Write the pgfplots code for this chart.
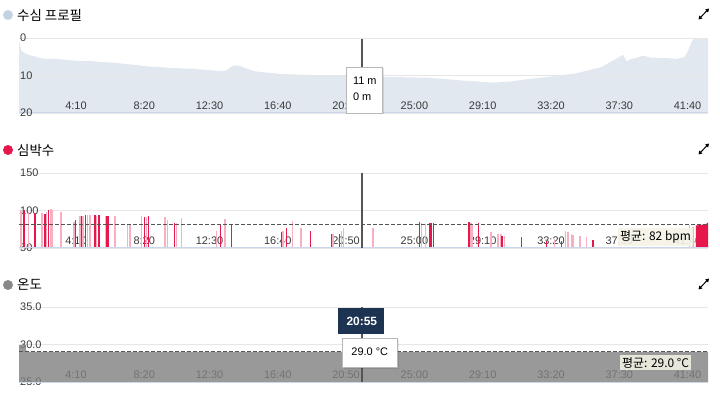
\documentclass[border=0pt]{standalone}
\usepackage{pgfplots}
\pgfplotsset{compat=1.18}
\usepackage{fontspec}
\setmainfont{Liberation Sans}
\newfontfamily\kr{Noto Sans CJK KR}
\usetikzlibrary{arrows.meta}
\definecolor{depthfill}{HTML}{E2E8EF}
\definecolor{depthdot}{HTML}{C3D3E3}
\definecolor{hrred}{HTML}{E5174B}
\definecolor{hrpink}{HTML}{F8B0C1}
\definecolor{tempgray}{HTML}{808080}
\definecolor{tempdot}{HTML}{888888}
\definecolor{gridc}{HTML}{E6E6E6}
\definecolor{axisc}{HTML}{CCD6EB}
\definecolor{labc}{HTML}{3A3A3A}
\definecolor{navy}{HTML}{1C3452}
\definecolor{avgbg}{HTML}{F5F3E6}
\definecolor{crossc}{HTML}{555555}
\pgfplotsset{
  panel/.style={scale only axis, width=689bp, height=75bp, xmin=0, xmax=2522,
    axis line style={draw=none}, major tick length=0pt, ymajorgrids,
    grid style={color=gridc, line width=0.8bp},
    xtick={250,500,750,1000,1250,1500,1750,2000,2250,2500},
    xticklabels={4:10,8:20,12:30,16:40,20:50,25:00,29:10,33:20,37:30,41:40},
    xticklabel style={anchor=south east, inner sep=0.5bp, yshift=2.5bp},
    yticklabel style={anchor=west, inner sep=1bp},
    tick label style={font=\fontsize{11}{11}\selectfont, text=labc},
    clip mode=individual},
}
\begin{document}
\begin{tikzpicture}
\path[use as bounding box] (0,0) rectangle (720bp,395bp);
% titles
\fill[depthdot] (8bp,380bp) circle (5bp);
\node[anchor=west, inner sep=0] at (17bp,380bp) {\kr\fontsize{13.5}{14}\selectfont 수심 프로필};
\fill[hrred] (8bp,245bp) circle (5bp);
\node[anchor=west, inner sep=0] at (17bp,245bp) {\kr\fontsize{13.5}{14}\selectfont 심박수};
\fill[tempdot] (8bp,110bp) circle (5bp);
\node[anchor=west, inner sep=0] at (17bp,110bp) {\kr\fontsize{13.5}{14}\selectfont 온도};
\foreach \yy in {381,246,111}{
  \draw[line width=1bp,{Triangle[length=3.5bp,width=4bp]}-{Triangle[length=3.5bp,width=4bp]}] (698.5bp,\yy bp-5.5bp) -- (709bp,\yy bp+5.5bp);
}
% ---------- depth ----------
\begin{axis}[panel, at={(19bp,282bp)}, anchor=south west, y dir=reverse,
  axis on top, ymin=0, ymax=20, ytick={0,10,20}, yticklabels={0,10,20}]
\addplot[fill=depthfill, draw=none] coordinates {
(0,0.8)(5,2.2)(10,3.5)(25,4.2)(40,4.6)(58,4.9)(80,5.4)(107,5.6)(130,5.5)(168,5.8)
(200,6.0)(229,6.2)(260,6.1)(300,6.4)(351,6.6)(400,7.0)(440,7.3)(473,7.6)(520,7.8)
(560,8.0)(595,8.1)(640,8.2)(680,8.5)(717,8.7)(742,8.9)(760,8.6)(775,7.8)(790,7.3)
(810,7.5)(825,7.9)(839,8.3)(860,8.8)(876,9.0)(920,9.3)(961,9.6)(1000,9.7)(1040,9.8)
(1083,10.0)(1150,10.0)(1205,10.0)(1255,10.1)(1300,10.3)(1370,10.4)(1430,10.5)
(1492,10.6)(1550,10.9)(1614,11.3)(1680,11.6)(1735,11.9)(1800,11.6)(1858,11.0)
(1920,10.5)(1979,10.0)(2040,9.4)(2101,8.3)(2130,7.8)(2150,7.0)(2180,5.8)(2211,4.5)
(2224,6.2)(2240,5.6)(2260,5.3)(2284,4.7)(2310,5.2)(2345,5.3)(2380,5.4)(2406,5.6)
(2437,5.1)(2450,3.2)(2462,1.0)(2470,0.3)(2522,0.2)(2522,20)(0,20)};
\draw[axisc, line width=1bp] (axis cs:0,20) -- (axis cs:2522,20);
\draw[crossc, line width=1.3bp] (axis cs:1255,0) -- (axis cs:1255,20);
\coordinate (shA) at (axis cs:1203,8.1);
\coordinate (shB) at (axis cs:1336,20.3);
\coordinate (bxA) at (axis cs:1197,7.7);
\coordinate (bxB) at (axis cs:1329,20);
\coordinate (t1) at (axis cs:1222,11.3);
\coordinate (t2) at (axis cs:1222,15.7);
\end{axis}
\fill[black, opacity=0.10] (shA) rectangle (shB);
\draw[fill=white, draw=gridc!80!black] (bxA) rectangle (bxB);
\node[anchor=west, inner sep=0, text=black] at (t1) {\fontsize{11}{11}\selectfont 11 m};
\node[anchor=west, inner sep=0, text=black] at (t2) {\fontsize{11}{11}\selectfont 0 m};
% ---------- heart rate ----------
\begin{axis}[panel, at={(19bp,147bp)}, anchor=south west,
  ymin=50, ymax=150, ytick={50,100,150}, yticklabels={50,100,150}]
\addplot[ycomb, hrpink, line width=1.5bp] coordinates {
(7,101)(34,98)(85,96)(101,98)(117,102)(122,101)(154,98)(202,85)(223,93)(235,93)
(251,94)(260,94)(284,93)(317,93)(351,92)(398,81)(406,81)(449,92)(467,91)(534,91)
(544,87)(577,83)(595,90)(723,73)(754,89)(967,72)(1001,86)(1032,77)(1150,68)
(1181,73)(1187,77)(1258,86)(1296,77)(1473,83)(1488,82)(1654,83)(1659,82)(1727,71)
(1754,68)(1764,68)(1778,66)(1961,62)(2001,73)(2010,71)(2022,69)(2027,67)(2053,66)
(2077,64)(2455,80)(2467,78)};
\addplot[ycomb, hrred, line width=1.3bp] coordinates {
(18,100)(59,96)(95,95)(107,100)(207,87)(229,92)(244,94)(278,94)(293,94)(322,92)
(327,92)(459,91)(473,93)(568,83)(738,82)(778,81)(961,71)(979,77)(1067,73)(1144,69)
(1174,69)(1467,84)(1504,83)(1510,83)(1516,83)(1647,84)(1683,83)(1768,66)(1839,64)
(1931,59)(1986,59)(2101,61)};
\addplot[fill=hrred, draw=none] coordinates {(2478,50)(2478,80)(2500,81)(2515,82)(2522,84)(2522,50)};
\addplot[crossc, line width=0.9bp, dash pattern=on 3.5bp off 2.5bp] coordinates {(0,82)(2522,82)};
\draw[axisc, line width=1bp] (axis cs:0,50) -- (axis cs:2522,50);
\draw[crossc, line width=1.3bp] (axis cs:1255,50) -- (axis cs:1255,150);
\node[fill=avgbg, fill opacity=0.9, text opacity=1, inner xsep=2bp, inner ysep=2.5bp, text=black]
  at (axis cs:2330,64.5) {\kr\fontsize{12}{12}\selectfont 평균: 82 bpm};
\end{axis}
% ---------- temperature ----------
\begin{axis}[panel, at={(19bp,13bp)}, anchor=south west,
  ymin=25, ymax=35, ytick={25,30,35}, yticklabels={25.0,30.0,35.0}]
\addplot[fill=tempgray, fill opacity=0.8, draw=none] coordinates {
(0,29.9)(25,29.9)(27,29.0)(600,29.0)(1255,29.0)(2000,29.0)(2522,29.0)(2522,25)(0,25)};
\addplot[crossc, line width=0.9bp, dash pattern=on 3.5bp off 2.5bp] coordinates {(0,29.1)(2522,29.1)};
\draw[axisc, line width=1bp] (axis cs:0,25) -- (axis cs:2522,25);
\draw[crossc, line width=1.3bp] (axis cs:1255,25) -- (axis cs:1255,35);
\fill[navy] (axis cs:1168,34.87) rectangle (axis cs:1336,31.4);
\node[text=white, inner sep=0] at (axis cs:1255,33.1) {\bfseries\fontsize{12}{12}\selectfont 20:55};
\fill[black, opacity=0.10] (axis cs:1189,30.6) rectangle (axis cs:1391,26.7);
\draw[fill=white, draw=gridc!80!black] (axis cs:1182,30.87) rectangle (axis cs:1384,27.0);
\node[text=black, inner sep=0] at (axis cs:1284,29.0) {\fontsize{11}{11}\selectfont 29.0 °C};
\node[fill=avgbg, fill opacity=0.85, text opacity=1, inner xsep=2bp, inner ysep=2bp, text=black]
  at (axis cs:2330,27.55) {\kr\fontsize{12}{12}\selectfont 평균: 29.0 °C};
\end{axis}
\end{tikzpicture}
\end{document}
